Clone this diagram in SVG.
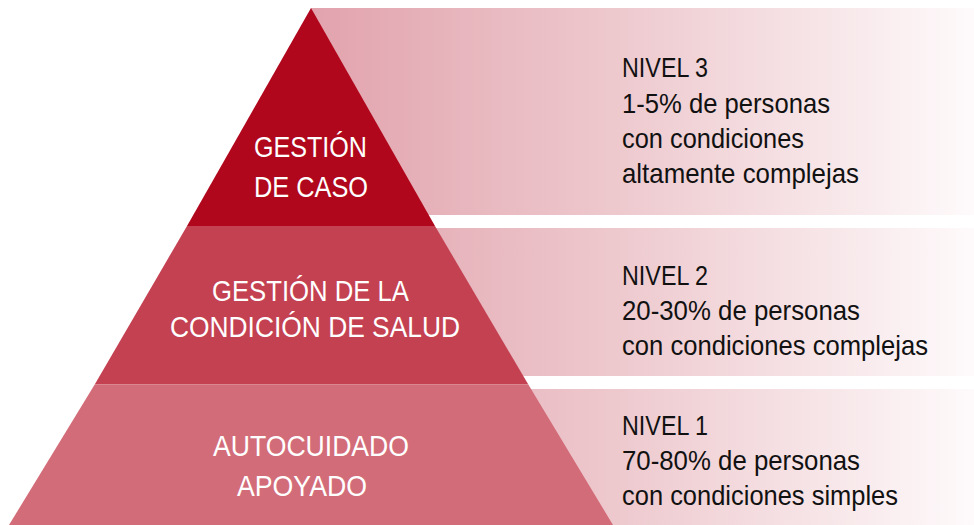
<svg xmlns="http://www.w3.org/2000/svg" width="974" height="525" viewBox="0 0 974 525">
  <defs>
    <linearGradient id="bandGrad" gradientUnits="userSpaceOnUse" x1="311" y1="0" x2="974" y2="0">
      <stop offset="0" stop-color="#E2A3AD"/>
      <stop offset="0.45" stop-color="#EDC8CD"/>
      <stop offset="1" stop-color="#FEFAFB"/>
    </linearGradient>
  </defs>
  <style>
    .band { fill: url(#bandGrad); }
    .lbl { font-family: "Liberation Sans", Arial, sans-serif; font-size: 30px; fill: #FFFFFF; }
    .desc { font-family: "Liberation Sans", Arial, sans-serif; font-size: 28px; fill: #111111; }
  </style>
  <rect width="974" height="525" fill="#FFFFFF"/>

  <g id="bands">
    <rect id="band3" class="band" x="311" y="8" width="663" height="207"/>
    <rect id="band2" class="band" x="311" y="228" width="663" height="148"/>
    <rect id="band1" class="band" x="311" y="389" width="663" height="136"/>
  </g>

  <g id="tier-top">
    <polygon points="311,8 435,226 187,226" fill="#B0071C"/>
    <text class="lbl" x="254" y="157" textLength="113" lengthAdjust="spacingAndGlyphs">GESTIÓN</text>
    <text class="lbl" x="254" y="197" textLength="114" lengthAdjust="spacingAndGlyphs">DE CASO</text>
  </g>

  <g id="tier-middle">
    <polygon points="187,226 435,226 528,384 95,384" fill="#C44152"/>
    <text class="lbl" x="212" y="301" textLength="197" lengthAdjust="spacingAndGlyphs">GESTIÓN DE LA</text>
    <text class="lbl" x="170" y="337" textLength="290" lengthAdjust="spacingAndGlyphs">CONDICIÓN DE SALUD</text>
  </g>

  <g id="tier-bottom">
    <polygon points="95,384 528,384 613,525 9,525" fill="#D36C79"/>
    <line x1="95" y1="384.5" x2="528" y2="384.5" stroke="#DA8691" stroke-width="1"/>
    <text class="lbl" x="213" y="456" textLength="196" lengthAdjust="spacingAndGlyphs">AUTOCUIDADO</text>
    <text class="lbl" x="237" y="496" textLength="130" lengthAdjust="spacingAndGlyphs">APOYADO</text>
  </g>

  <g id="desc-level3">
    <text class="desc" x="622" y="77" textLength="86" lengthAdjust="spacingAndGlyphs">NIVEL 3</text>
    <text class="desc" x="622" y="112.5" textLength="208" lengthAdjust="spacingAndGlyphs">1-5% de personas</text>
    <text class="desc" x="622" y="148" textLength="182" lengthAdjust="spacingAndGlyphs">con condiciones</text>
    <text class="desc" x="622" y="183" textLength="237" lengthAdjust="spacingAndGlyphs">altamente complejas</text>
  </g>

  <g id="desc-level2">
    <text class="desc" x="622" y="285" textLength="86" lengthAdjust="spacingAndGlyphs">NIVEL 2</text>
    <text class="desc" x="622" y="320" textLength="238" lengthAdjust="spacingAndGlyphs">20-30% de personas</text>
    <text class="desc" x="622" y="355" textLength="306" lengthAdjust="spacingAndGlyphs">con condiciones complejas</text>
  </g>

  <g id="desc-level1">
    <text class="desc" x="622" y="435" textLength="86" lengthAdjust="spacingAndGlyphs">NIVEL 1</text>
    <text class="desc" x="622" y="470" textLength="238" lengthAdjust="spacingAndGlyphs">70-80% de personas</text>
    <text class="desc" x="622" y="505" textLength="276" lengthAdjust="spacingAndGlyphs">con condiciones simples</text>
  </g>
</svg>
